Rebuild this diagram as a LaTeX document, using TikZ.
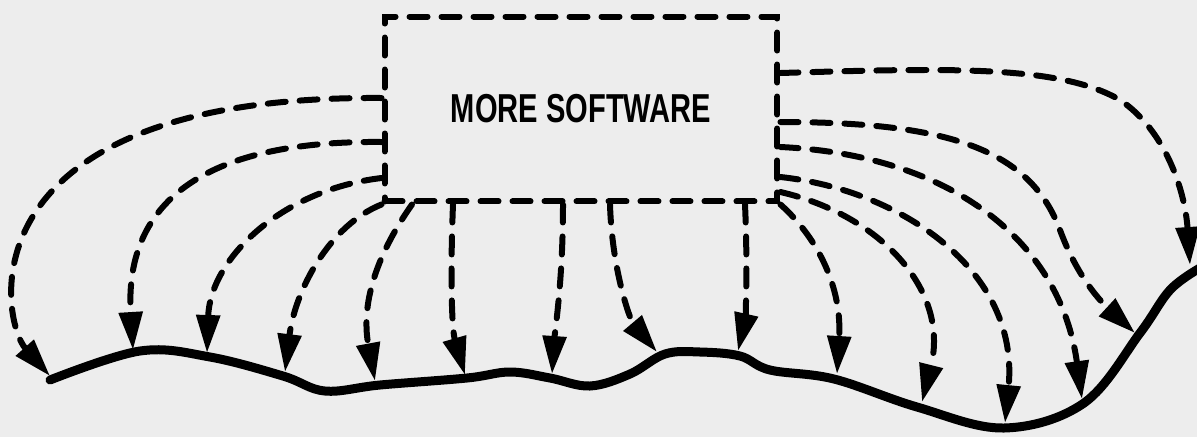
\documentclass[tikz,border=0pt]{standalone}
\usepackage{fontspec}
\setmainfont{Liberation Sans}
\usetikzlibrary{arrows.meta}

\begin{document}
\begin{tikzpicture}[x=0.02cm, y=-0.02cm,
    dashline/.style={line width=0.12cm, line cap=round, dash pattern=on 0.36cm off 0.28cm},
    flow/.style={dashline, -{Triangle[length=0.76cm, width=0.46cm]}}]
    % Paper background
    \fill[black!7] (0,0) rectangle (1197,437);
    \useasboundingbox (0,0) rectangle (1197,437);

    % The software box
    \node[draw, dashline, minimum width=7.86cm, minimum height=3.7cm, inner sep=0,
          font=\fontsize{23}{23}\selectfont\bfseries] (soft) at (581,109)
          {\scalebox{0.72}[1]{MORE SOFTWARE}\hspace{0.25cm}};

    % Wavy ground line
    \draw[line width=0.18cm, line cap=round, line join=round] plot[smooth, tension=0.6] coordinates {
        (50,380) (140,351) (210,357) (283,376) (325,391) (380,385)
        (467,378) (510,372) (550,378) (590,386) (630,374) (665,354)
        (700,352) (740,356) (770,370) (834,379) (917,407) (1004,428)
        (1084,403) (1140,333) (1170,290) (1200,268)};

    % Landing points on the ground
    \coordinate (g1) at (50,376);
    \coordinate (g2) at (133,350);
    \coordinate (g3) at (207,353);
    \coordinate (g4) at (285,372);
    \coordinate (g5) at (375,381);
    \coordinate (g6) at (465,375);
    \coordinate (g7) at (552,374);
    \coordinate (g8) at (657,352);
    \coordinate (g9) at (738,351);
    \coordinate (g10) at (837,374);
    \coordinate (g11) at (922,402);
    \coordinate (g12) at (1005,423);
    \coordinate (g13) at (1082,399);
    \coordinate (g14) at (1135,333);
    \coordinate (g15) at (1190,265);

    % Flows out of the left side
    \draw[flow] (soft.west |- 0,98) .. controls (-40,95) and (0,320) .. (g1);
    \draw[flow] (soft.west |- 0,142) .. controls (180,140) and (125,220) .. (g2);
    \draw[flow] (soft.west |- 0,178) .. controls (280,190) and (210,260) .. (g3);
    \draw[flow] (soft.south west) .. controls (330,225) and (295,290) .. (g4);
    \draw[flow] (soft.south -| 412,0) .. controls (380,250) and (360,300) .. (g5);

    % Flows out of the bottom
    \draw[flow] (soft.south -| 453,0) .. controls (450,280) and (452,330) .. (g6);
    \draw[flow] (soft.south -| 563,0) .. controls (563,280) and (555,330) .. (g7);
    \draw[flow] (soft.south -| 610,0) .. controls (612,270) and (630,320) .. (g8);
    \draw[flow] (soft.south -| 745,0) .. controls (748,270) and (745,320) .. (g9);

    % Flows out of the right side
    \draw[flow] (soft.south east) .. controls (820,240) and (842,290) .. (g10);
    \draw[flow] (soft.east |- 0,192) .. controls (880,215) and (950,290) .. (g11);
    \draw[flow] (soft.east |- 0,177) .. controls (900,190) and (1020,270) .. (g12);
    \draw[flow] (soft.east |- 0,147) .. controls (950,155) and (1060,240) .. (g13);
    \draw[flow] (soft.east |- 0,122) .. controls (950,122) and (1030,150) .. (1060,230)
        .. controls (1080,285) and (1110,310) .. (g14);
    \draw[flow] (soft.east |- 0,73) .. controls (950,68) and (1060,65) .. (1120,100)
        .. controls (1165,130) and (1185,190) .. (g15);

\end{tikzpicture}
\end{document}
